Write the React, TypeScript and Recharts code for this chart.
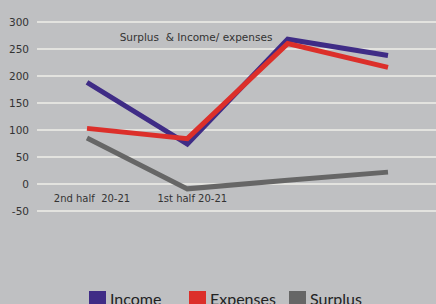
import React from "react";
import { LineChart, Line, XAxis, YAxis, CartesianGrid } from "recharts";

const categories = ["2nd half  20-21", "1st half 20-21", "", ""];
const income = [188, 74, 268, 238];
const expenses = [103, 84, 260, 216];
const surplus = [85, -9, 7, 22];
const yTicks = [-50, 0, 50, 100, 150, 200, 250, 300];
const title = "Surplus  & Income/ expenses";

const series = [
  { key: "income", name: "Income", color: "#3f2c86" },
  { key: "expenses", name: "Expenses", color: "#dc2f2a" },
  { key: "surplus", name: "Surplus", color: "#666666" },
];

const data = categories.map((c, i) => ({
  name: c,
  income: income[i],
  expenses: expenses[i],
  surplus: surplus[i],
}));

const FONT = "'DejaVu Sans', sans-serif";
const LFONT = "Lato, 'Open Sans', sans-serif";

const XTick = (props: any) => {
  const { x, y, payload } = props;
  return (
    <text x={x + 5} y={y - 17} textAnchor="middle" fontSize={10} fill="#333" fontFamily={FONT} style={{ whiteSpace: "pre" }}>
      {payload.value}
    </text>
  );
};

export default function App() {
  return (
    <div style={{ position: "absolute", left: 0, top: 0, width: 436, height: 304, background: "#bfc0c2", overflow: "hidden" }}>
      <LineChart width={436} height={304} data={data} margin={{ top: 22, right: 0, left: 0, bottom: 92 }}>
        <CartesianGrid vertical={false} stroke="#e3e3df" strokeWidth={2} />
        <XAxis
          dataKey="name"
          axisLine={false}
          tickLine={false}
          padding={{ left: 50, right: 48 }}
          tick={<XTick />}
          interval={0}
          height={1}
        />
        <YAxis
          domain={[-50, 300]}
          ticks={yTicks}
          axisLine={false}
          tickLine={false}
          width={37}
          tick={{ fontSize: 10.5, fill: "#333", fontFamily: FONT }}
        />
        {series.map((s) => (
          <Line
            key={s.key}
            dataKey={s.key}
            name={s.name}
            stroke={s.color}
            strokeWidth={5}
            dot={false}
            isAnimationActive={false}
          />
        ))}
        <text x={196} y={41} textAnchor="middle" fontSize={10.5} fill="#333" fontFamily={FONT} style={{ whiteSpace: "pre" }}>
          {title}
        </text>
      </LineChart>
      <div style={{ position: "absolute", top: 289, left: 89, display: "flex", fontFamily: LFONT, fontSize: 16, color: "#222" }}>
        {series.map((s) => (
          <div key={s.key} style={{ display: "flex", alignItems: "flex-start", width: 100 }}>
            <span style={{ display: "inline-block", width: 17, height: 17, background: s.color, marginRight: 4, marginTop: 2 }} />
            <span style={{ lineHeight: "20px" }}>{s.name}</span>
          </div>
        ))}
      </div>
    </div>
  );
}
